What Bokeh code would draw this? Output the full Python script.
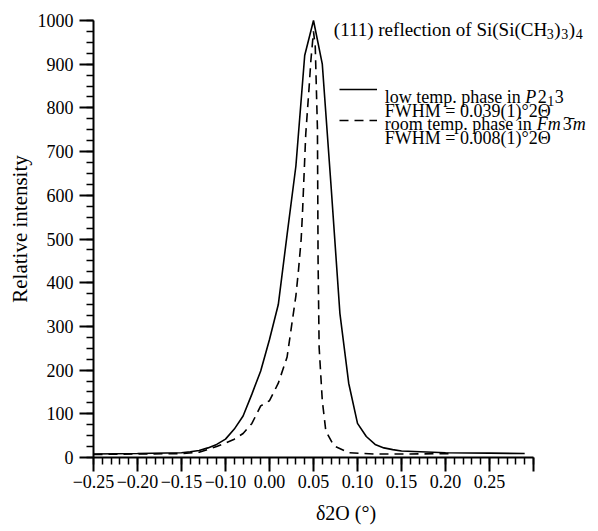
from bokeh.plotting import figure
from bokeh.models import FixedTicker, Label, Legend, LegendItem, Range1d
from bokeh.core.properties import value
from bokeh.embed import file_html
from bokeh.resources import INLINE

# ---- data ----
low_x = [-0.20, -0.15, -0.10, -0.09, -0.08, -0.07, -0.06, -0.05, -0.04, -0.03, -0.02, -0.01,
         0.00, 0.01, 0.02, 0.03, 0.04, 0.05, 0.06, 0.07, 0.08, 0.09, 0.10, 0.11, 0.12, 0.13,
         0.14, 0.15, 0.20, 0.25, 0.29]
low_y = [8, 9, 11, 13, 16, 22, 30, 42, 65, 95, 145, 198,
         270, 350, 510, 667, 920, 1000, 900, 620, 330, 170, 78, 48, 30, 22,
         18, 15, 11, 10, 9]

room_x = [-0.20, -0.15, -0.10, -0.08, -0.06, -0.05, -0.04, -0.03, -0.02, -0.01, 0.00, 0.01,
          0.02, 0.025, 0.030, 0.033, 0.036, 0.0375, 0.0393, 0.0412, 0.045, 0.047, 0.050,
          0.052, 0.0545, 0.0552, 0.0564, 0.060, 0.064, 0.073, 0.09, 0.12, 0.16, 0.21]
room_y = [7, 8, 9, 12, 25, 33, 42, 55, 78, 118, 130, 170,
          230, 300, 370, 430, 500, 560, 648, 740, 847, 908, 975,
          940, 750, 450, 252, 130, 61, 27, 11, 8, 8, 9]

x_ticks = [-0.20, -0.15, -0.10, -0.05, 0.00, 0.05, 0.10, 0.15, 0.20, 0.25, 0.30]
x_tick_labels = ["\u22120.25", "\u22120.20", "\u22120.15", "\u22120.10", "0.00", "0.05",
                 "0.10", "0.15", "0.20", "0.25", ""]
y_ticks = [0, 100, 200, 300, 400, 500, 600, 700, 800, 900, 1000]

title_parts = ["(111) reflection of Si(Si(CH", "3", ")", "3", ")", "4"]
low_parts = ["low temp. phase in ", "P", "2", "1", "3"]
low_fwhm = "FWHM = 0.039(1)\u00b02\u0398"
room_parts = ["room temp. phase in ", "Fm", "3\u0304", "m"]
room_fwhm = "FWHM = 0.008(1)\u00b02\u0398"

FONT = "Liberation Serif"

# frame: left 93 px .. right edge 598; bottom 457 .. top 0; 880 px per 1.0 in x, 0.437 px per unit in y
X0, X1 = -0.20, 0.30
Y0, Y1 = 0, 1000
x_end = X0 + 505 / 880.0
y_end = 457 / 0.437

p = figure(width=598, height=531, output_backend="svg", toolbar_location=None,
           x_range=Range1d(X0, x_end), y_range=Range1d(Y0, y_end),
           min_border_left=93, min_border_right=0, min_border_top=0, min_border_bottom=74)
p.outline_line_color = None
p.xgrid.visible = False
p.ygrid.visible = False
p.background_fill_color = "white"

r1 = p.line(low_x, low_y, line_color="black", line_width=1.6)
r2 = p.line(room_x, room_y, line_color="black", line_width=1.6, line_dash="9 6")

x_minor = [round(-0.20 + 0.01 * i, 2) for i in range(51)]
y_minor = [25 * i for i in range(41)]
p.xaxis.ticker = FixedTicker(ticks=x_ticks, minor_ticks=x_minor)
p.yaxis.ticker = FixedTicker(ticks=y_ticks, minor_ticks=y_minor)
p.xaxis.major_label_overrides = {t: l for t, l in zip(x_ticks, x_tick_labels)}
p.xaxis.bounds = (X0, X1)
p.yaxis.bounds = (Y0, Y1)

for ax in (p.xaxis, p.yaxis):
    ax.axis_line_width = 2
    ax.axis_line_color = "black"
    ax.major_tick_line_width = 2
    ax.minor_tick_line_width = 1.5
    ax.major_tick_line_color = "black"
    ax.minor_tick_line_color = "black"
    ax.major_tick_in = 0
    ax.minor_tick_in = 0
    ax.major_tick_out = 14
    ax.minor_tick_out = 7
    ax.major_label_text_font = FONT
    ax.major_label_text_font_size = "18px"
    ax.major_label_text_color = "black"
    ax.axis_label_text_font = FONT
    ax.axis_label_text_font_style = "normal"
    ax.axis_label_text_color = "black"

p.xaxis.major_label_standoff = 3
p.yaxis.major_label_standoff = 6
p.xaxis.axis_label = "\u03b42O (\u00b0)"
p.yaxis.axis_label = "Relative intensity"
p.xaxis.axis_label_text_font_size = "20px"
p.yaxis.axis_label_text_font_size = "21px"
p.xaxis.axis_label_standoff = 11
p.yaxis.axis_label_standoff = 3

# legend keys
leg = Legend(items=[LegendItem(label=value(""), renderers=[r1]),
                    LegendItem(label=value(""), renderers=[r2])],
             location=(246, 327), orientation="vertical",
             glyph_width=38, glyph_height=20, label_width=0, label_height=20,
             label_standoff=0, spacing=11, padding=0, margin=0,
             border_line_color=None, background_fill_alpha=0)
p.add_layout(leg)

# text annotations (positions in data units)
def px_x(px):
    return (px - 268.7) / 880.0

def px_y(py):
    return (456.7 - py) / 0.437

def lab(txt, px, py, style="normal", size="18px"):
    p.add_layout(Label(x=px_x(px), y=px_y(py), text=txt, text_font=FONT,
                       text_font_size=size, text_font_style=style, text_color="black",
                       text_baseline="alphabetic", text_align="left"))

SUB = "14px"
lab(title_parts[0], 333, 29, size="19px")
lab(title_parts[1], 546, 33, size=SUB)
lab(title_parts[2], 553.5, 29, size="19px")
lab(title_parts[3], 560.5, 33, size=SUB)
lab(title_parts[4], 568, 29, size="19px")
lab(title_parts[5], 575, 33, size=SUB)

lab(low_parts[0], 384, 96)
lab(low_parts[1], 524.5, 96, style="italic")
lab(low_parts[2], 537, 96)
lab(low_parts[3], 546.5, 100, size=SUB)
lab(low_parts[4], 554, 96)
lab(low_fwhm, 384, 110)
lab(room_parts[0], 384, 123.5)
lab(room_parts[1], 536, 123.5, style="italic")
lab(room_parts[2], 562, 123.5)
lab(room_parts[3], 572, 123.5, style="italic")
lab(room_fwhm, 384, 137)

open("out.html", "w").write(file_html(p, INLINE))
